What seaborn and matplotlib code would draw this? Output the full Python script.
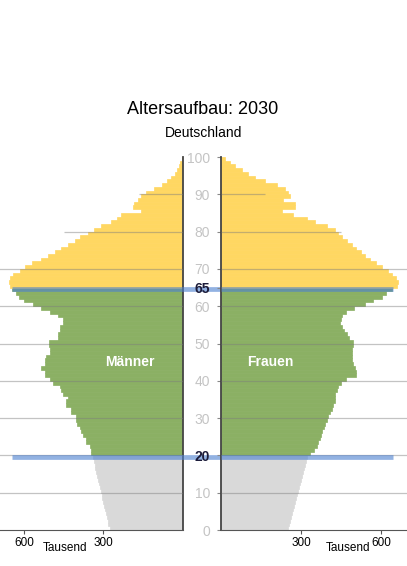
import numpy as np
import pandas as pd
import seaborn as sns
import matplotlib.pyplot as plt

# Bevoelkerung 2030 in Tausend, Alter 0..99
ages = list(range(100))

maenner = [
    277, 281, 284, 288, 291, 294, 298, 301, 304, 307,
    310, 314, 317, 320, 323, 327, 330, 333, 337, 341,
    346, 346, 352, 365, 365, 377, 383, 390, 400, 402,
    405, 421, 421, 440, 440, 434, 454, 460, 465, 490,
    500, 521, 521, 534, 521, 521, 515, 502, 502, 506,
    506, 472, 472, 465, 465, 454, 454, 470, 500, 534,
    566, 600, 618, 630, 645, 652, 655, 652, 640, 615,
    596, 571, 534, 509, 484, 459, 434, 409, 390, 359,
    334, 310, 270, 250, 234, 159, 190, 184, 171, 159,
    140, 110, 80, 60, 45, 32, 22, 15, 10, 5,
]

frauen = [
    252, 256, 259, 263, 266, 270, 274, 277, 281, 284,
    288, 292, 295, 299, 302, 306, 310, 313, 317, 322,
    334, 348, 359, 365, 371, 375, 380, 385, 390, 396,
    400, 410, 415, 420, 427, 427, 427, 435, 440, 450,
    470, 506, 506, 502, 495, 490, 490, 490, 490, 495,
    496, 480, 471, 460, 455, 446, 450, 452, 470, 500,
    540, 570, 605, 620, 640, 660, 665, 655, 640, 625,
    605, 580, 560, 540, 525, 505, 490, 471, 455, 440,
    427, 396, 352, 321, 271, 227, 277, 277, 234, 259,
    252, 240, 209, 165, 127, 102, 77, 52, 34, 15,
]

def gruppe(a):
    if a < 20:
        return 'jung'
    elif a < 65:
        return 'mitte'
    return 'alt'

farben = {'jung': '#d9d9d9', 'mitte': '#8bb064', 'alt': '#ffd762'}

df = pd.DataFrame({'alter': ages, 'mitte_y': np.array(ages) + 0.5,
                   'Maenner': maenner, 'Frauen': frauen})
df['gruppe'] = df['alter'].apply(gruppe)

grid_ages = [10, 20, 30, 40, 50, 60, 70, 80, 90]
grid_ends = {80: 450, 90: 165}   # diese Linien sind im Original kuerzer
marker_ages = [64.5, 19.5]

plt.rcParams['font.family'] = ['Liberation Sans', 'DejaVu Sans']
fig = plt.figure(figsize=(4.07, 5.66), dpi=100)
ax_m = fig.add_axes([0.0, 0.0636, 0.4496, 0.659])
ax_f = fig.add_axes([0.543, 0.0636, 0.457, 0.659])

for ax, col in [(ax_m, 'Maenner'), (ax_f, 'Frauen')]:
    sns.barplot(data=df, x=col, y='mitte_y', hue='gruppe', palette=farben,
                orient='y', native_scale=True, width=1, dodge=False,
                saturation=1, errorbar=None, legend=False, linewidth=0, ax=ax)
    for p in ax.patches:
        p.set_edgecolor(p.get_facecolor())
        p.set_linewidth(0.5)
    ax.set_ylim(0, 100)
    ax.set_xlabel('')
    ax.set_ylabel('')
    for s in ['top', 'left', 'right', 'bottom']:
        ax.spines[s].set_visible(False)
    ax.spines['bottom'].set_visible(True)
    ax.spines['bottom'].set_color('#555555')
    ax.tick_params(axis='x', length=3, color='#555555', labelsize=8.5, pad=2)
    for g in grid_ages:
        end = grid_ends.get(g, 700)
        ax.hlines(g, 0, end, color='#7a7a7a', alpha=0.45, lw=0.9, zorder=3)

# linke Seite (Maenner)
ax_m.set_xlim(690, 0)
ax_m.set_xticks([600, 300])
ax_m.set_xticklabels(['600', '300'])
ax_m.set_yticks([])
ax_m.spines['right'].set_visible(True)
ax_m.spines['right'].set_color('#444444')
ax_m.spines['right'].set_linewidth(1.3)

# rechte Seite (Frauen)
ax_f.set_xlim(0, 697)
ax_f.set_xticks([300, 600])
ax_f.set_xticklabels(['300', '600'])
ax_f.spines['left'].set_visible(True)
ax_f.spines['left'].set_color('#444444')
ax_f.spines['left'].set_linewidth(1.3)

ytick_vals = [0, 10, 20, 30, 40, 50, 60, 65, 70, 80, 90, 100]
ax_f.set_yticks(ytick_vals)
ax_f.set_yticklabels([str(v) for v in ytick_vals])
ax_f.tick_params(axis='y', length=3, color='#888888', labelsize=10, pad=5)
for lab, v in zip(ax_f.get_yticklabels(), ytick_vals):
    if v in (20, 65):
        lab.set_color('#1c1c3a')
        lab.set_fontweight('bold')
    else:
        lab.set_color('#c4c4c4')

# blaue Markierungen bei 20 und 65
for y in marker_ages:
    ax_m.hlines(y, 645, -150, color='#4a7fd0', alpha=0.6, lw=3.4,
                zorder=4, clip_on=False)
    ax_f.hlines(y, 0, 645, color='#4a7fd0', alpha=0.6, lw=3.4, zorder=4)

ax_m.text(200, 45, 'Männer', color='white', fontsize=10, fontweight='bold',
          ha='center', va='center', zorder=5)
ax_f.text(184, 45, 'Frauen', color='white', fontsize=10, fontweight='bold',
          ha='center', va='center', zorder=5)

fig.text(0.16, 0.032, 'Tausend', fontsize=8.5, ha='center', va='center')
fig.text(0.855, 0.032, 'Tausend', fontsize=8.5, ha='center', va='center')

fig.text(0.499, 1 - 110 / 566, 'Altersaufbau: 2030', fontsize=13,
         ha='center', va='center')
fig.text(0.499, 1 - 133 / 566, 'Deutschland', fontsize=10,
         ha='center', va='center')

fig.savefig('out.png', dpi=100)
